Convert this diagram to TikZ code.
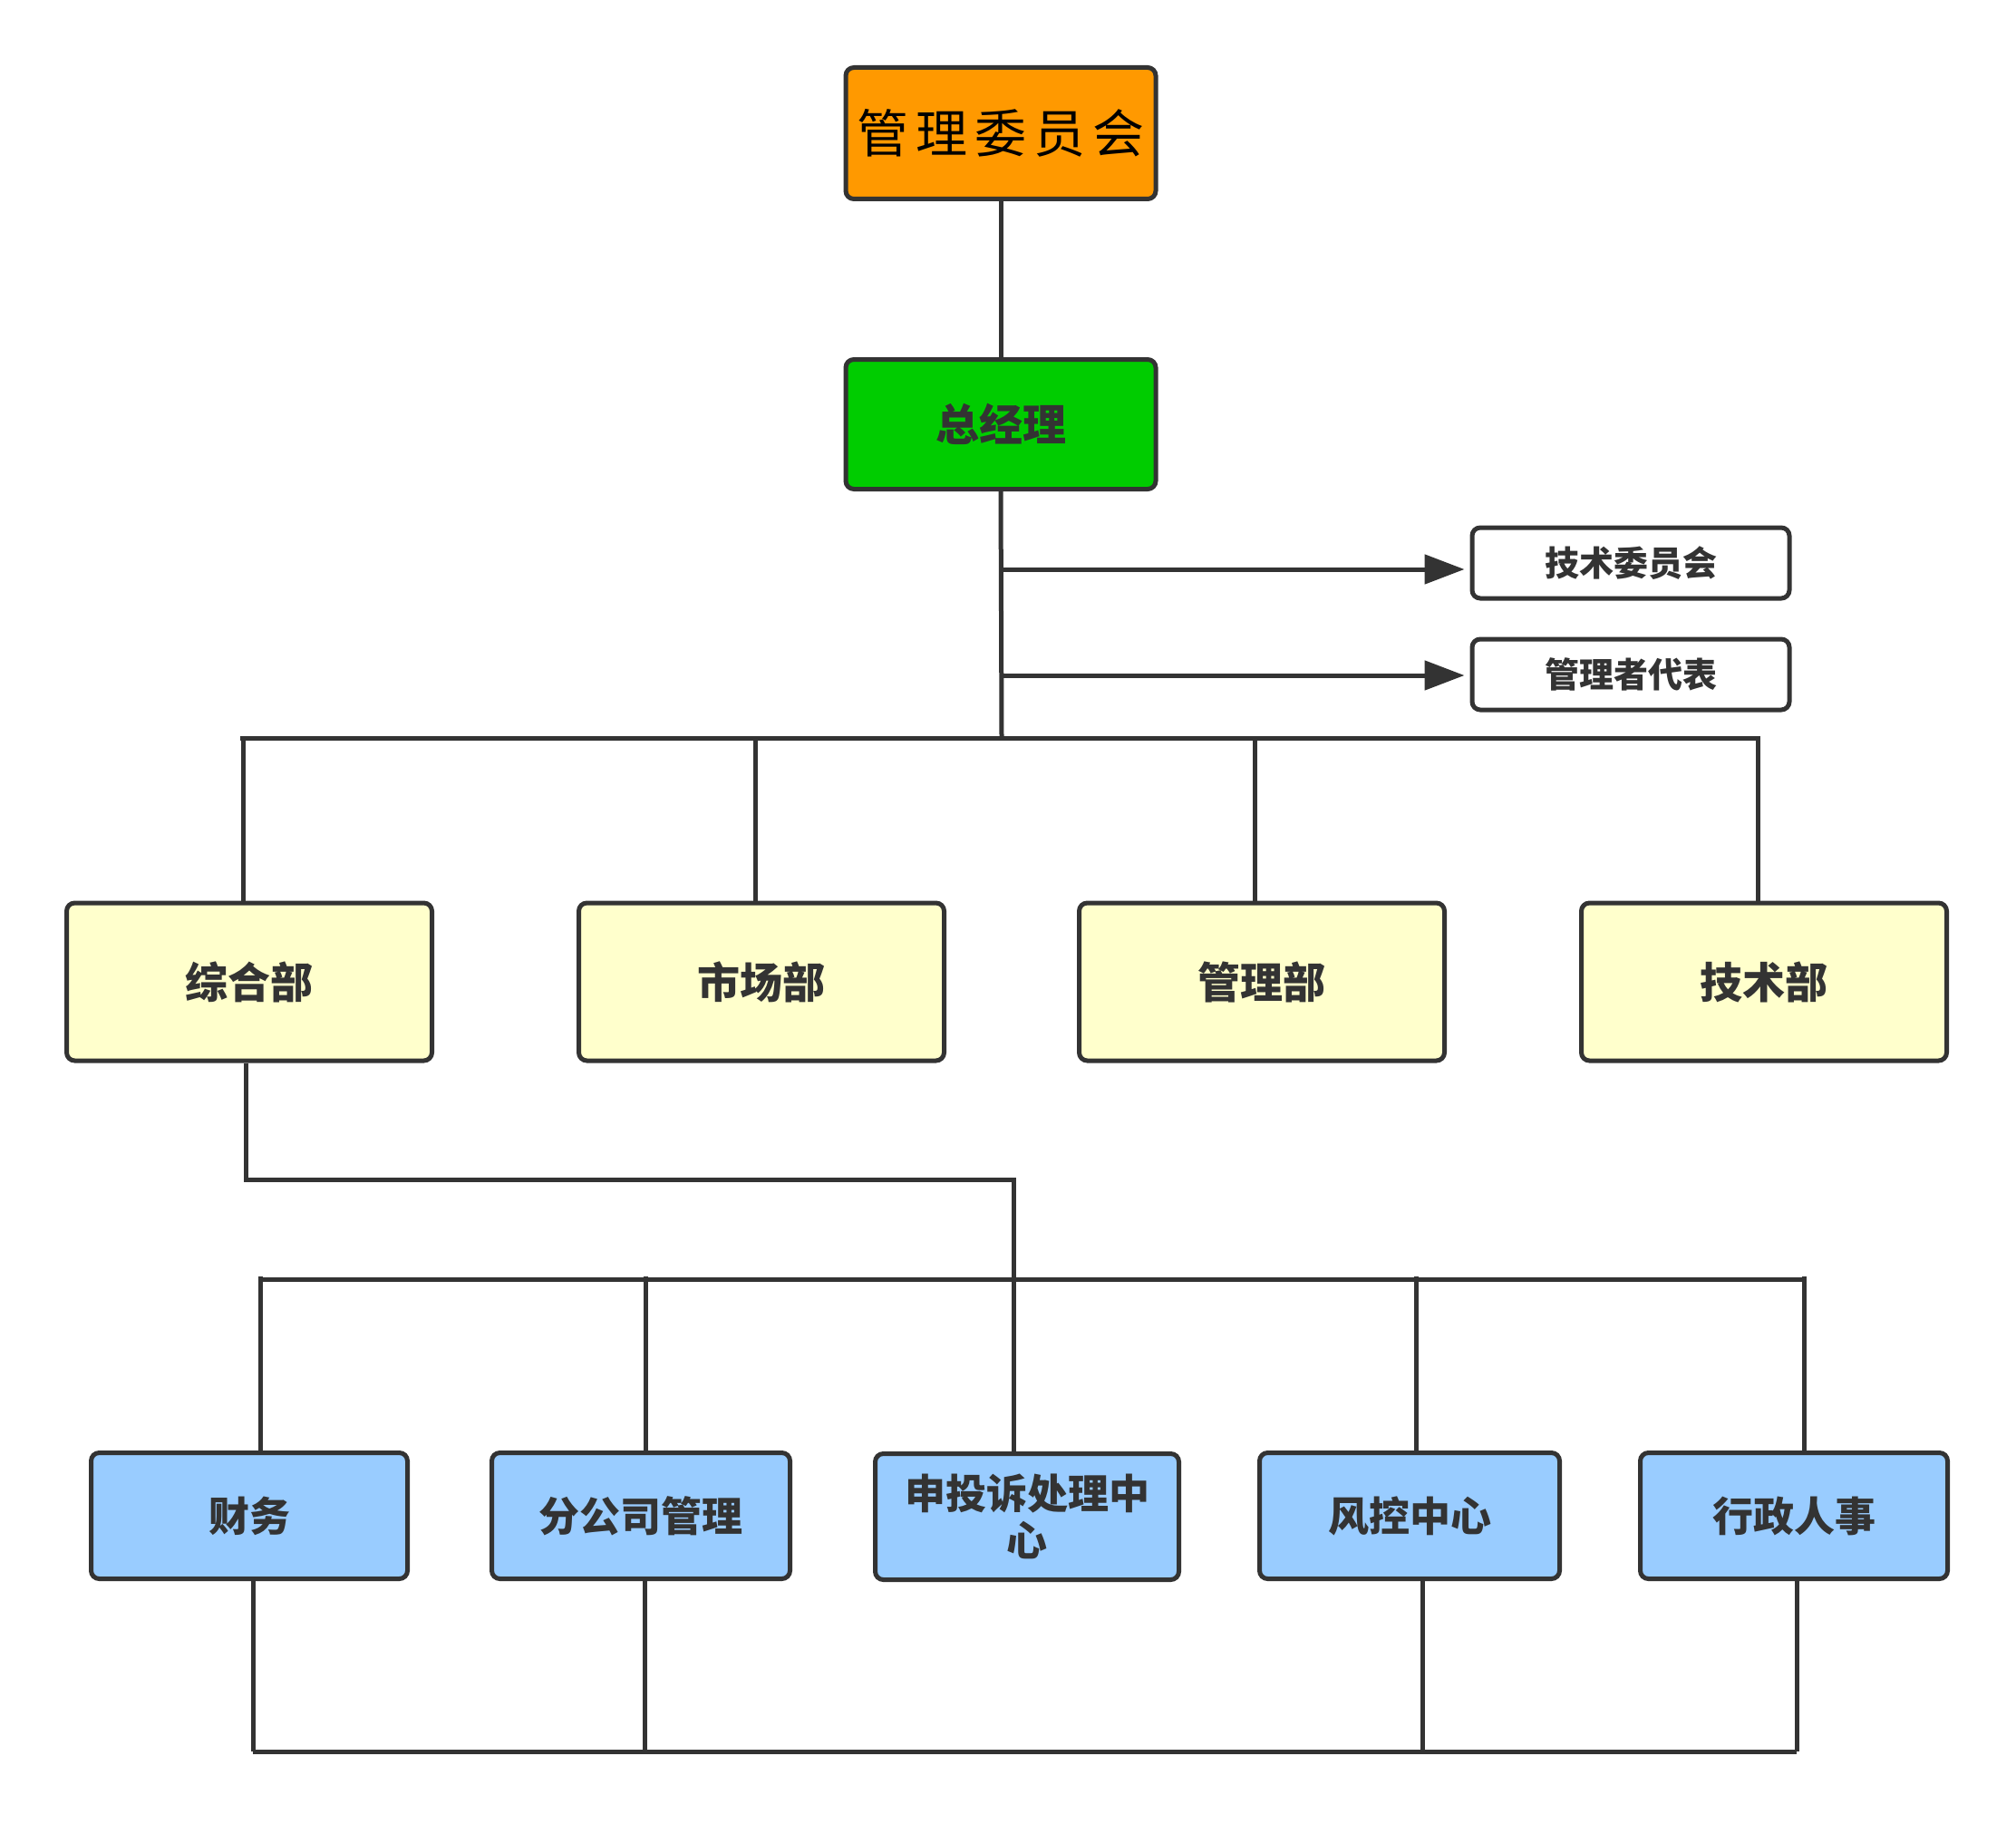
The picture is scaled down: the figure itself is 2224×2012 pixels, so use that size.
\documentclass[tikz,border=0pt]{standalone}
\usepackage{fontspec}
\newfontfamily\cjk{Noto Sans CJK SC}
\newfontfamily\cjkspaced{Noto Sans CJK SC}[LetterSpace=14]
\usetikzlibrary{arrows.meta}
\definecolor{ink}{HTML}{333333}
\definecolor{orangebox}{HTML}{FF9900}
\definecolor{greenbox}{HTML}{00CC00}
\definecolor{yellowbox}{HTML}{FFFFCC}
\definecolor{bluebox}{HTML}{99CCFF}
\tikzset{
  box/.style={draw=ink, line width=5pt, rounded corners=9pt, inner sep=0pt, align=center, text=ink, font=\cjk\bfseries},
  conn/.style={draw=ink, line width=5pt},
  arr/.style={conn, -{Triangle[length=44pt,width=32pt]}, shorten >=6pt},
  ybox/.style={box, fill=yellowbox, minimum width=403pt, minimum height=174pt, font=\cjk\bfseries\fontsize{47}{52}\selectfont},
  bbox/.style={box, fill=bluebox, minimum height=139pt, font=\cjk\bfseries\fontsize{45}{50}\selectfont},
  sbox/.style={box, fill=white, minimum width=350pt, minimum height=78pt, font=\cjk\bfseries\fontsize{38}{42}\selectfont}
}
\begin{document}
\begin{tikzpicture}[x=1pt,y=-1pt]
\useasboundingbox[fill=white] (0,0) rectangle (2224,2012);
% top
\node[box, fill=orangebox, minimum width=342pt, minimum height=145pt, text=black, font=\cjkspaced\fontsize{57}{60}\selectfont] (top) at (1104,147) {管理委员会};
\node[box, fill=greenbox, minimum width=342pt, minimum height=143pt, font=\cjk\bfseries\fontsize{48}{52}\selectfont] (gm) at (1104,468) {总经理};
\node[sbox] (tc) at (1799,621) {技术委员会};
\node[sbox] (mr) at (1799,744) {管理者代表};
% yellow
\node[ybox] (zh) at (275,1083) {综合部};
\node[ybox] (sc) at (840,1083) {市场部};
\node[ybox] (gl) at (1392,1083) {管理部};
\node[ybox] (js) at (1946,1083) {技术部};
% blue
\node[bbox, minimum width=349pt] (cw) at (275,1672) {财务};
\node[bbox, minimum width=329pt] (fg) at (707,1672) {分公司管理};
\node[bbox, minimum width=335pt, font=\cjk\bfseries\fontsize{45}{52}\selectfont] (ts) at (1133,1673) {申投诉处理中\\心};
\node[bbox, minimum width=331pt] (fk) at (1555,1672) {风控中心};
\node[bbox, minimum width=339pt] (xz) at (1979,1672) {行政人事};
% coordinates
\coordinate (busL) at (265,814);
\coordinate (busR) at (1939,814);
\coordinate (gmfoot) at (1105,814);
\coordinate (a1) at (1105,628);
\coordinate (a2) at (1105,745);
\coordinate (zhturn) at (271,1301);
\coordinate (lbL) at (287,1411);
\coordinate (lbR) at (1993,1411);
\coordinate (bbL) at (279,1932);
\coordinate (bbR) at (1982,1932);
% connectors
\draw[conn] (top) -- (gm);
\draw[conn] (gm.south) -- (gmfoot);
\draw[arr] (a1) -- (a1 -| tc.west);
\draw[arr] (a2) -- (a2 -| mr.west);
\draw[conn] (busL) -- (busR);
\draw[conn] ([xshift=-7pt]zh.north) -- ++(0,-182);
\draw[conn] ([xshift=-7pt]sc.north) -- ++(0,-182);
\draw[conn] ([xshift=-8pt]gl.north) -- ++(0,-182);
\draw[conn] ([xshift=-7pt]js.north) -- ++(0,-182);
\draw[conn] ([xshift=-4pt]zh.south) -- (zhturn) -| ([xshift=-15pt]ts.north);
\draw[conn] (lbL) -- (lbR);
\draw[conn] ([xshift=12pt]cw.north) -- ++(0,-192);
\draw[conn] ([xshift=5pt]fg.north) -- ++(0,-192);
\draw[conn] ([xshift=7pt]fk.north) -- ++(0,-192);
\draw[conn] ([xshift=11pt]xz.north) -- ++(0,-192);
\draw[conn] ([xshift=4pt]cw.south) -- (bbL);
\draw[conn] ([xshift=4pt]fg.south) -- ++(0,190);
\draw[conn] ([xshift=14pt]fk.south) -- ++(0,190);
\draw[conn] ([xshift=3pt]xz.south) -- (bbR);
\draw[conn] (bbL) -- (bbR);
\end{tikzpicture}
\end{document}
